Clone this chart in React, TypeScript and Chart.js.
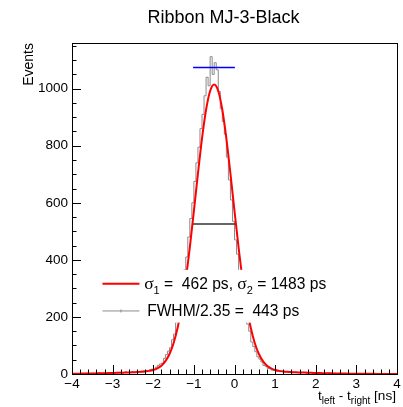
import React, { useEffect, useRef } from 'react';
import { Chart, registerables } from 'chart.js';

Chart.register(...registerables);

// ---------------- data ----------------
const chartTitle = 'Ribbon MJ-3-Black';
const yAxisTitle = 'Events';

// histogram: 160 bins from -4 to 4 ns
const histLow = -4;
const histBinWidth = 0.05;
const histCounts = [
  1, 0, 2, 1, 0, 1, 2, 1, 3, 1,
  2, 3, 1, 2, 4, 2, 3, 2, 5, 3,
  4, 3, 5, 4, 6, 4, 5, 7, 5, 6,
  8, 6, 7, 9, 8, 10, 11, 12, 10, 15,
  17, 16, 24, 30, 35, 38, 55, 68, 80, 92,
  120, 140, 182, 210, 265, 300, 365, 410, 480, 545,
  600, 675, 740, 795, 860, 910, 975, 1040, 1010, 1112,
  1050, 1091, 1066, 990, 930, 885, 840, 760, 680, 610,
  535, 470, 420, 350, 310, 255, 220, 175, 150, 112,
  96, 78, 60, 52, 42, 30, 27, 20, 19, 14,
  13, 10, 11, 8, 9, 7, 8, 6, 7, 5,
  6, 7, 5, 4, 6, 5, 3, 4, 5, 3,
  4, 2, 3, 4, 2, 3, 2, 3, 1, 2,
  3, 1, 2, 1, 2, 1, 0, 2, 1, 1,
  0, 1, 2, 0, 1, 1, 0, 1, 0, 1,
  0, 1, 0, 0, 1, 0, 0, 1, 0, 0,
];

// fitted double-gaussian curve, sampled every 0.1 ns from -4 to 4
const fitStart = -4;
const fitStep = 0.1;
const fitValues = [
  0.9, 1.1, 1.3, 1.5, 1.7, 1.9, 2.2, 2.5, 2.9, 3.2,
  3.6, 4.1, 4.5, 5.0, 5.5, 6.0, 6.8, 7.6, 9, 11,
  14, 20, 29, 45, 70, 108, 162, 236, 331, 444,
  571, 702, 825, 926, 992, 1015, 992, 926, 825, 702,
  571, 444, 331, 236, 162, 108, 70, 45, 29, 20,
  14, 11, 9, 7.6, 6.8, 6.0, 5.5, 5.0, 4.5, 4.1,
  3.6, 3.2, 2.9, 2.5, 2.2, 1.9, 1.7, 1.5, 1.3, 1.1,
  0.9, 0.8, 0.7, 0.6, 0.5, 0.4, 0.35, 0.3, 0.25, 0.2,
  0.15,
];

const fwhmRange = [-1.02, 0.01];
const fwhmLevel = 526;
const maxRange = [-1.02, 0.01];
const maxLevel = 1074;

const xMin = -4;
const xMax = 4;
const yMin = 0;
const yMax = 1160;
const xMajorTicks = [-4, -3, -2, -1, 0, 1, 2, 3, 4];
const yMajorTicks = [0, 200, 400, 600, 800, 1000];
const xMinorStep = 0.2;
const yMinorStep = 50;

const legendFitParts = [
  { t: 'σ', kind: 'greek' },
  { t: '1', kind: 'sub' },
  { t: ' =  462 ps, ', kind: 'text' },
  { t: 'σ', kind: 'greek' },
  { t: '2', kind: 'sub' },
  { t: ' = 1483 ps', kind: 'text' },
];
const legendFwhmText = 'FWHM/2.35 =  443 ps';

const xTitleParts = [
  { t: 't', kind: 'text' },
  { t: 'left', kind: 'sub' },
  { t: ' - t', kind: 'text' },
  { t: 'right', kind: 'sub' },
  { t: ' [ns]', kind: 'text' },
];

// ---------------- styling ----------------
const SANS = "'Liberation Sans', Arial, Helvetica, sans-serif";
const SERIF = "'Liberation Serif', 'Times New Roman', serif";

function fmtTick(v: number): string {
  return v < 0 ? '\u2212' + Math.abs(v) : String(v);
}

function drawParts(ctx: CanvasRenderingContext2D, parts: { t: string; kind: string }[], x: number, y: number, size: number, align: 'left' | 'right') {
  const fontFor = (k: string) =>
    k === 'greek' ? `${size + 2}px ${SERIF}` : k === 'sub' ? `${Math.round(size * 0.7)}px ${SANS}` : `${size}px ${SANS}`;
  let total = 0;
  const widths = parts.map((p) => {
    ctx.font = fontFor(p.kind);
    const w = ctx.measureText(p.t).width;
    total += w;
    return w;
  });
  let cx = align === 'left' ? x : x - total;
  ctx.textAlign = 'left';
  ctx.textBaseline = 'alphabetic';
  parts.forEach((p, i) => {
    ctx.font = fontFor(p.kind);
    const dy = p.kind === 'sub' ? size * 0.3 : 0;
    ctx.fillText(p.t, cx, y + dy);
    cx += widths[i];
  });
}

const decorPlugin = {
  id: 'decor',
  afterDatasetsDraw(chart: any) {
    const ctx: CanvasRenderingContext2D = chart.ctx;
    const area = chart.chartArea;
    const xs = chart.scales.x;
    const ys = chart.scales.y;
    ctx.save();

    // legend box (white, covers curves)
    const lx0 = xs.getPixelForValue(-3.6);
    const lx1 = xs.getPixelForValue(2.5);
    const ly0 = ys.getPixelForValue(365);
    const ly1 = ys.getPixelForValue(180);
    ctx.fillStyle = '#ffffff';
    ctx.fillRect(lx0, ly0, lx1 - lx0, ly1 - ly0);

    const row1 = ys.getPixelForValue(316);
    const row2 = ys.getPixelForValue(221);
    const sx0 = xs.getPixelForValue(-3.25);
    const sx1 = xs.getPixelForValue(-2.34);
    ctx.strokeStyle = '#ff0000';
    ctx.lineWidth = 2;
    ctx.beginPath();
    ctx.moveTo(sx0, row1);
    ctx.lineTo(sx1, row1);
    ctx.stroke();
    ctx.strokeStyle = '#8c8c8c';
    ctx.lineWidth = 1;
    ctx.beginPath();
    ctx.moveTo(sx0, row2);
    ctx.lineTo(sx1, row2);
    ctx.moveTo((sx0 + sx1) / 2, row2 - 1.5);
    ctx.lineTo((sx0 + sx1) / 2, row2 + 1.5);
    ctx.stroke();

    ctx.fillStyle = '#000';
    const tx = xs.getPixelForValue(-2.2);
    drawParts(ctx, legendFitParts, tx - 1, row1 + 5.5, 15.6, 'left');
    ctx.font = `15.6px ${SANS}`;
    ctx.textAlign = 'left';
    ctx.textBaseline = 'alphabetic';
    ctx.fillText(legendFwhmText, tx + 2, row2 + 5.5);

    // frame
    ctx.strokeStyle = '#000';
    ctx.lineWidth = 1;
    ctx.strokeRect(Math.round(area.left) + 0.5, Math.round(area.top) + 0.5, Math.round(area.right - area.left), Math.round(area.bottom - area.top));

    // ticks (inside)
    ctx.beginPath();
    const nx = Math.round((xMax - xMin) / xMinorStep);
    for (let i = 0; i <= nx; i++) {
      const v = xMin + i * xMinorStep;
      const major = xMajorTicks.some((m) => Math.abs(m - v) < 1e-6);
      const px = Math.round(xs.getPixelForValue(v)) + 0.5;
      ctx.moveTo(px, area.bottom);
      ctx.lineTo(px, area.bottom - (major ? 9 : 4.5));
    }
    const ny = Math.floor((yMax - yMin) / yMinorStep);
    for (let i = 0; i <= ny; i++) {
      const v = yMin + i * yMinorStep;
      const major = yMajorTicks.some((m) => Math.abs(m - v) < 1e-6);
      const py = Math.round(ys.getPixelForValue(v)) + 0.5;
      ctx.moveTo(area.left, py);
      ctx.lineTo(area.left + (major ? 9 : 4.5), py);
    }
    ctx.stroke();

    // title
    ctx.fillStyle = '#000';
    ctx.font = `18px ${SANS}`;
    ctx.textAlign = 'center';
    ctx.textBaseline = 'alphabetic';
    ctx.fillText(chartTitle, 223.5, 23);

    // y title
    ctx.save();
    ctx.translate(33, area.top);
    ctx.rotate(-Math.PI / 2);
    ctx.font = `14px ${SANS}`;
    ctx.textAlign = 'right';
    ctx.textBaseline = 'alphabetic';
    ctx.fillText(yAxisTitle, 0, 0);
    ctx.restore();

    // x title
    drawParts(ctx, xTitleParts, area.right - 1, 400, 13.6, 'right');

    ctx.restore();
  },
};

export default function App() {
  const ref = useRef<HTMLCanvasElement | null>(null);

  useEffect(() => {
    if (!ref.current) return;
    const histPoints = histCounts.map((c, i) => ({ x: histLow + i * histBinWidth, y: c }));
    histPoints.push({ x: histLow + histCounts.length * histBinWidth, y: histCounts[histCounts.length - 1] });
    const fitPoints = fitValues.map((v, i) => ({ x: fitStart + i * fitStep, y: v }));

    const tickFont = { family: SANS, size: 13.5 };
    const chart = new Chart(ref.current, {
      type: 'line',
      data: {
        datasets: [
          {
            label: 'hist',
            data: histPoints,
            stepped: 'after',
            borderColor: '#8a8a8a',
            borderWidth: 1,
            pointRadius: 0,
            fill: false,
            order: 4,
          },
          {
            label: 'fit',
            data: fitPoints,
            borderColor: '#ff0000',
            borderWidth: 2,
            pointRadius: 0,
            fill: false,
            cubicInterpolationMode: 'monotone',
            order: 3,
          },
          {
            label: 'fwhm',
            data: [
              { x: fwhmRange[0], y: fwhmLevel },
              { x: fwhmRange[1], y: fwhmLevel },
            ],
            borderColor: '#333333',
            borderWidth: 1.5,
            pointRadius: 0,
            order: 2,
          },
          {
            label: 'max',
            data: [
              { x: maxRange[0], y: maxLevel },
              { x: maxRange[1], y: maxLevel },
            ],
            borderColor: '#0000ff',
            borderWidth: 1.5,
            pointRadius: 0,
            order: 1,
          },
        ],
      },
      options: {
        responsive: false,
        animation: false,
        events: [],
        layout: { padding: { left: 0, right: 6, top: 43, bottom: 0 } },
        plugins: {
          legend: { display: false },
          tooltip: { enabled: false },
          title: { display: false },
        },
        scales: {
          x: {
            type: 'linear',
            min: xMin,
            max: xMax,
            afterBuildTicks: (s: any) => {
              s.ticks = xMajorTicks.map((v) => ({ value: v }));
            },
            afterFit: (s: any) => {
              s.height = 33;
            },
            grid: { display: false, drawTicks: false },
            border: { display: false },
            ticks: {
              padding: 2,
              color: '#000',
              font: tickFont,
              maxRotation: 0,
              autoSkip: false,
              callback: (v: any) => fmtTick(Number(v)),
            },
          },
          y: {
            type: 'linear',
            min: yMin,
            max: yMax,
            afterBuildTicks: (s: any) => {
              s.ticks = yMajorTicks.map((v) => ({ value: v }));
            },
            afterFit: (s: any) => {
              s.width = 72;
            },
            grid: { display: false, drawTicks: false },
            border: { display: false },
            ticks: {
              padding: 4,
              color: '#000',
              font: tickFont,
              autoSkip: false,
              callback: (v: any) => fmtTick(Number(v)),
            },
          },
        },
      } as any,
      plugins: [decorPlugin],
    });
    return () => chart.destroy();
  }, []);

  return (
    <div style={{ position: 'fixed', left: 0, top: 0, width: 403, height: 407, background: '#fff' }}>
      <canvas ref={ref} width={403} height={407} style={{ display: 'block', width: 403, height: 407 }} />
    </div>
  );
}
